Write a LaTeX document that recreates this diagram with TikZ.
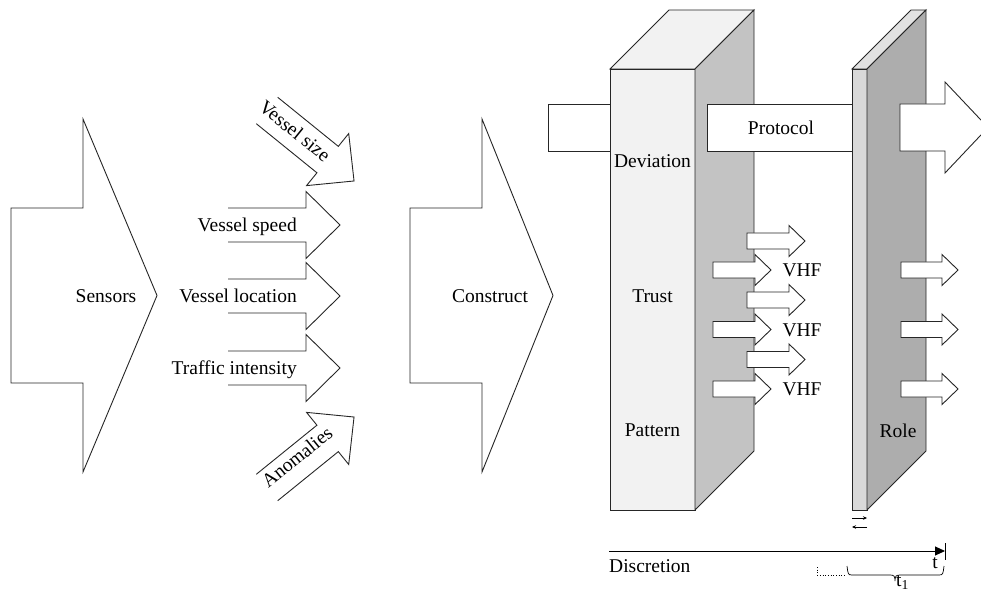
\documentclass[tikz,border=0pt]{standalone}
\usepackage{fontspec}
\setmainfont{Liberation Serif}
\usetikzlibrary{arrows.meta}
\definecolor{pafront}{HTML}{F2F2F2}
\definecolor{paside}{HTML}{C3C3C3}
\definecolor{pbfront}{HTML}{D9D9D9}
\definecolor{pbtop}{HTML}{E2E2E2}
\definecolor{pbside}{HTML}{ADADAD}
\begin{document}
\begin{tikzpicture}[x=1pt,y=-1pt,
  outl/.style={draw=black!85, line width=0.9pt, line join=miter},
  arr/.style={outl, fill=white},
  lbl/.style={font=\fontsize{19.5}{23}\selectfont, inner sep=0pt},
  thinarrow/.style={draw=black, line width=0.6pt, -{Stealth[length=4pt,width=3.5pt]}},
]
\useasboundingbox (0,0) rectangle (981,593);

% Sensors big arrow
\draw[arr] (11,208) -- (83,208) -- (83,119) -- (157,295.5) -- (83,472) -- (83,383) -- (11,383) -- cycle;
\node[lbl, anchor=base] (sensors) at (106,302) {Sensors};

% Construct big arrow
\draw[arr] (410,208) -- (482,208) -- (482,119) -- (553,295.5) -- (482,472) -- (482,383) -- (410,383) -- cycle;
\node[lbl, anchor=base] (construct) at (490,302) {Construct};

% middle input arrows
\foreach \c/\t/\n in {225/Vessel speed/spd, 296/Vessel location/loc, 368/Traffic intensity/trf} {
  \draw[outl] (228,\c-17) -- (306,\c-17) -- (306,\c-33.5) -- (340,\c) -- (306,\c+33.5) -- (306,\c+17) -- (228,\c+17);
  \node[lbl, anchor=base east] (\n) at (297,\c+6.3) {\t};
}
% Vessel size (diagonal down-right)
\begin{scope}[shift={(267,110.5)}, rotate=-39]
  \draw[outl] (0,-17) -- (78,-17) -- (78,-33.5) -- (112,0) -- (78,33.5) -- (78,17) -- (0,17);
\end{scope}
\node[lbl, rotate=-39] (vsize) at (295,131) {Vessel size};
% Anomalies (diagonal up-right)
\begin{scope}[shift={(267,487.5)}, rotate=39]
  \draw[outl] (0,-17) -- (78,-17) -- (78,-33.5) -- (112,0) -- (78,33.5) -- (78,17) -- (0,17);
\end{scope}
\node[lbl, rotate=39] (anom) at (297,457) {Anomalies};

% input box to first pillar
\draw[arr] (548,104) rectangle (610,151);

% first pillar
\draw[outl, fill=pafront] (610,69) rectangle (695,510);
\draw[outl, fill=pafront] (610,69) -- (669,10) -- (754,10) -- (695,69) -- cycle;
\draw[outl, fill=paside] (695,69) -- (754,10) -- (754,451) -- (695,510) -- cycle;
\node[lbl, anchor=base] (dev) at (652.5,168) {Deviation};
\node[lbl, anchor=base] (trust) at (652.5,302) {Trust};
\node[lbl, anchor=base] (pattern) at (652.5,436) {Pattern};

% Protocol bar
\draw[arr] (707,104) rectangle (852,151);
\node[lbl, anchor=base] (protocol) at (781,135) {Protocol};

% VHF arrows
\foreach \c in {241,300,359.5} {
  \draw[arr] (747,\c-8) -- (789,\c-8) -- (789,\c-15.5) -- (805,\c) -- (789,\c+15.5) -- (789,\c+8) -- (747,\c+8) -- cycle;
}
\foreach \c/\n in {270/va,329.5/vb,389/vc} {
  \draw[arr] (713,\c-8) -- (755,\c-8) -- (755,\c-15.5) -- (771,\c) -- (755,\c+15.5) -- (755,\c+8) -- (713,\c+8) -- cycle;
  \node[lbl, anchor=base] (\n) at (802,\c+6.5) {VHF};
}

% second pillar
\draw[outl, fill=pbfront] (852,69) rectangle (867,510);
\draw[outl, fill=pbtop] (852,69) -- (911,10) -- (926,10) -- (867,69) -- cycle;
\draw[outl, fill=pbside] (867,69) -- (926,10) -- (926,451) -- (867,510) -- cycle;
\node[lbl, anchor=base] (role) at (898,437) {Role};

% output arrow
\draw[arr] (900,104) -- (945,104) -- (945,82) -- (988,127.5) -- (945,173) -- (945,151) -- (900,151) -- cycle;

% right small arrows
\foreach \c in {270,329.5,389} {
  \draw[arr] (901,\c-8) -- (942,\c-8) -- (942,\c-15.5) -- (958,\c) -- (942,\c+15.5) -- (942,\c+8) -- (901,\c+8) -- cycle;
}

% small back-and-forth arrows under second pillar
\coordinate (sa1) at (852,518);
\coordinate (sa2) at (867,518);
\coordinate (sb1) at (867,527);
\coordinate (sb2) at (852,527);
\draw[thinarrow] (sa1) -- (sa2);
\draw[thinarrow] (sb1) -- (sb2);

% Discretion axis
\coordinate (ax0) at (609,551);
\coordinate (ax1) at (945,551);
\draw[line width=0.9pt, -{Triangle[length=10pt,width=9pt]}] (ax0) -- (ax1);
\coordinate (tk0) at (945,543);
\coordinate (tk1) at (945,560);
\draw[line width=0.9pt] (tk0) -- (tk1);
\node[lbl, anchor=base west] (discr) at (609,572) {Discretion};
\node[lbl, anchor=base] (tlab) at (935,568) {t};

% brace and t1
\draw[line width=0.7pt] (847,566) .. controls (848,574) and (848,575) .. (852,575) -- (890,575)
  .. controls (894,575) and (895,576) .. (895,581) .. controls (895,576) and (896,575) .. (900,575)
  -- (939,575) .. controls (943,575) and (943,574) .. (944,566);
\draw[line width=0.7pt, dotted] (817,567) -- (817,575) -- (846,575);
\node[lbl, anchor=base west] (t1) at (896,586) {t\textsubscript{1}};
\end{tikzpicture}
\end{document}
